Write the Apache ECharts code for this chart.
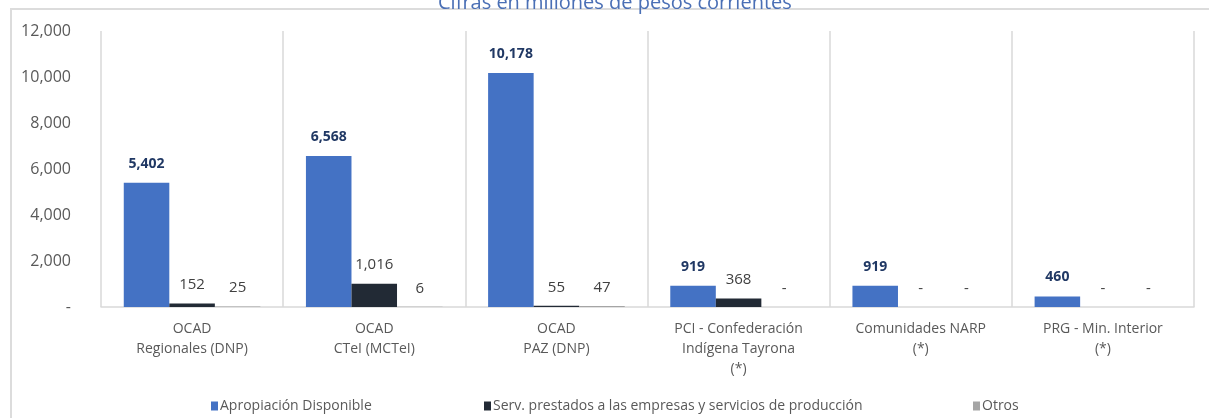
<!DOCTYPE html>
<html>
<head>
<meta charset="utf-8">
<script src="https://cdn.jsdelivr.net/npm/echarts@6/dist/echarts.min.js"></script>
<style>
  html, body { margin: 0; padding: 0; background: #fff; }
  #chart { width: 1209px; height: 418px; }
</style>
</head>
<body>
<div id="chart"></div>
<script>
// chart data
const categories = [
  'OCAD\nRegionales (DNP)',
  'OCAD\nCTeI (MCTeI)',
  'OCAD\nPAZ (DNP)',
  'PCI - Confederación\nIndígena Tayrona\n(*)',
  'Comunidades NARP\n(*)',
  'PRG - Min. Interior\n(*)'
];
const seriesNames = [
  'Apropiación Disponible',
  'Serv. prestados a las empresas y servicios de producción',
  'Otros'
];
const apropiacion = [5402, 6568, 10178, 919, 919, 460];
const servicios = [152, 1016, 55, 368, 0, 0];
const otros = [25, 6, 47, 0, 0, 0];

const fmt = v => v === 0 ? '-' : v.toLocaleString('en-US');
const font = "'Open Sans', 'Noto Sans', sans-serif";

const chart = echarts.init(document.getElementById('chart'));

function labelStyle(bold) {
  return {
    show: true,
    position: 'top',
    distance: bold ? 12 : 11,
    fontFamily: font,
    fontSize: bold ? 14 : 15,
    fontWeight: bold ? 'bold' : 'normal',
    color: bold ? '#203864' : '#404040',
    formatter: p => fmt(p.value)
  };
}

function legendAt(name, left) {
  return {
    data: [name],
    left: left,
    top: 399,
    padding: 0,
    icon: 'rect',
    itemWidth: 7,
    itemHeight: 9,
    itemGap: 4,
    textStyle: { fontFamily: font, fontSize: 14, color: '#595959', padding: [0, 0, 0, -3] }
  };
}

const option = {
  animation: false,
  title: {
    text: 'Cifras en millones de pesos corrientes',
    left: 433,
    top: -12,
    textStyle: { fontFamily: font, fontSize: 20, fontWeight: 'normal', color: '#4A6FB5' }
  },
  graphic: [{
    type: 'polyline',
    shape: { points: [[11, 420], [11, 9], [1212, 9]] },
    style: { stroke: '#DCDCDC', lineWidth: 2, fill: null },
    silent: true
  }],
  legend: [
    legendAt(seriesNames[0], 211),
    legendAt(seriesNames[1], 484),
    legendAt(seriesNames[2], 973)
  ],
  grid: { left: 101, right: 15, top: 31, bottom: 111 },
  xAxis: {
    type: 'category',
    data: categories,
    axisLine: { lineStyle: { color: '#D9D9D9', width: 1.5 } },
    axisTick: { show: false },
    splitLine: { show: true, lineStyle: { color: '#D9D9D9', width: 1.5 } },
    axisLabel: {
      interval: 0,
      margin: 12,
      fontFamily: font,
      fontSize: 14,
      lineHeight: 20,
      color: '#595959'
    }
  },
  yAxis: {
    type: 'value',
    min: 0,
    max: 12000,
    interval: 2000,
    axisLine: { show: false },
    axisTick: { show: false },
    splitLine: { show: false },
    axisLabel: {
      margin: 30,
      fontFamily: font,
      fontSize: 16,
      color: '#595959',
      formatter: fmt
    }
  },
  series: [
    {
      name: seriesNames[0],
      type: 'bar',
      data: apropiacion,
      barGap: '0%',
      barCategoryGap: '25%',
      itemStyle: { color: '#4472C4' },
      label: labelStyle(true)
    },
    {
      name: seriesNames[1],
      type: 'bar',
      data: servicios,
      itemStyle: { color: '#222A35' },
      label: labelStyle(false)
    },
    {
      name: seriesNames[2],
      type: 'bar',
      data: otros,
      itemStyle: { color: '#A5A5A5' },
      label: labelStyle(false)
    }
  ]
};

chart.setOption(option);
</script>
</body>
</html>
